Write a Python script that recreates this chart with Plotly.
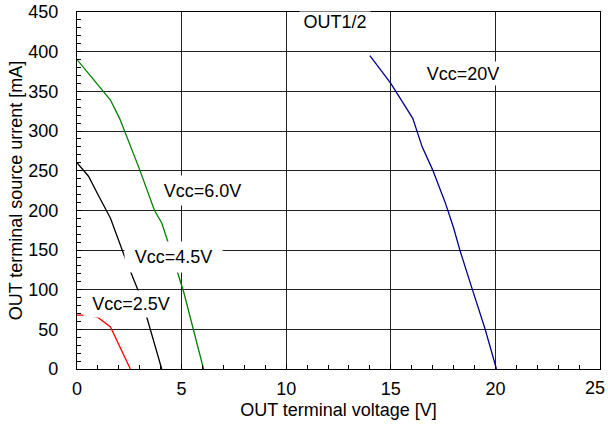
import plotly.graph_objects as go

# Data
v25_x = [0.0, 0.5, 1.0, 1.6, 2.55]
v25_y = [68, 68, 65, 53, 0]

v45_x = [0.0, 0.55, 1.0, 1.6, 2.3, 2.95, 3.35, 4.05]
v45_y = [260, 243, 220, 190, 140, 97, 64, 0]

v60_x = [0.0, 1.6, 2.05, 3.0, 3.7, 4.05, 4.4, 5.1, 6.05]
v60_y = [390, 339, 315, 251, 200, 184, 156, 97, 0]

v20_x = [14.0, 15.0, 16.05, 16.5, 17.0, 17.6, 18.0, 18.3, 18.9, 19.5, 20.05]
v20_y = [395, 360, 316, 280, 251, 210, 178, 150, 100, 51, 0]

x_ticks = [0, 5, 10, 15, 20, 25]
x_ticktext = ["0", "5", "10", "15", "20", ""]
x_last_label = "25"
y_ticks = [0, 50, 100, 150, 200, 250, 300, 350, 400, 450]

FONT = "Liberation Sans, Arial, sans-serif"
FS = 18

fig = go.Figure()
fig.add_trace(go.Scatter(x=v25_x, y=v25_y, mode="lines", line=dict(color="#ff0000", width=1.3), showlegend=False))
fig.add_trace(go.Scatter(x=v45_x, y=v45_y, mode="lines", line=dict(color="#000000", width=1.3), showlegend=False))
fig.add_trace(go.Scatter(x=v60_x, y=v60_y, mode="lines", line=dict(color="#008000", width=1.3), showlegend=False))
fig.add_trace(go.Scatter(x=v20_x, y=v20_y, mode="lines", line=dict(color="#000090", width=1.3), showlegend=False))

labels = [
    ("Vcc=2.5V", 2.6, 82, 94, 26),
    ("Vcc=4.5V", 4.59, 141, 97, 30),
    ("Vcc=6.0V", 6.0, 225, 95, 29),
    ("Vcc=20V", 18.45, 373, 86, 23),
    ("OUT1/2", 12.33, 437, 70, 20),
]
for txt, x, y, w, h in labels:
    fig.add_annotation(x=x, y=y, text=txt, showarrow=False, bgcolor="white",
                       width=w, height=h, borderpad=0,
                       font=dict(family=FONT, size=FS, color="black"))

# last x tick label, kept inside the page edge as in the reference
fig.add_annotation(x=1.0, y=0, xref="paper", yref="paper", text=x_last_label,
                   showarrow=False, xanchor="right", yanchor="middle",
                   xshift=6, yshift=-19, borderpad=0,
                   font=dict(family=FONT, size=FS, color="black"))

axis_common = dict(
    showline=True, linecolor="black", linewidth=1.3, mirror=True,
    showgrid=True, gridcolor="#222222", gridwidth=1,
    ticks="inside", ticklen=5, tickcolor="black",
    zeroline=False, ticklabeloverflow="allow",
    tickfont=dict(family=FONT, size=FS, color="black"),
    minor=dict(ticks="inside", ticklen=4, tickcolor="black", showgrid=False),
)

fig.update_xaxes(range=[0, 25], tickvals=x_ticks, ticktext=x_ticktext,
                 minor_dtick=1, ticklabelstandoff=3,
                 title=dict(text="OUT terminal voltage [V]", standoff=5,
                            font=dict(family=FONT, size=FS, color="black")),
                 **axis_common)
fig.update_yaxes(range=[0, 450], tickvals=y_ticks, ticktext=[str(t) for t in y_ticks],
                 minor_dtick=10, ticklabelstandoff=14,
                 title=dict(text="OUT terminal source urrent [mA]", standoff=0,
                            font=dict(family=FONT, size=FS, color="black")),
                 **axis_common)

fig.update_layout(
    width=608, height=438,
    margin=dict(l=77, r=8, t=12, b=69, autoexpand=False),
    paper_bgcolor="white", plot_bgcolor="white",
    font=dict(family=FONT, size=FS, color="black"),
)

fig.write_html("out.html", config={"displayModeBar": False},
               post_script="document.body.style.margin='0';document.body.style.overflow='hidden';")
